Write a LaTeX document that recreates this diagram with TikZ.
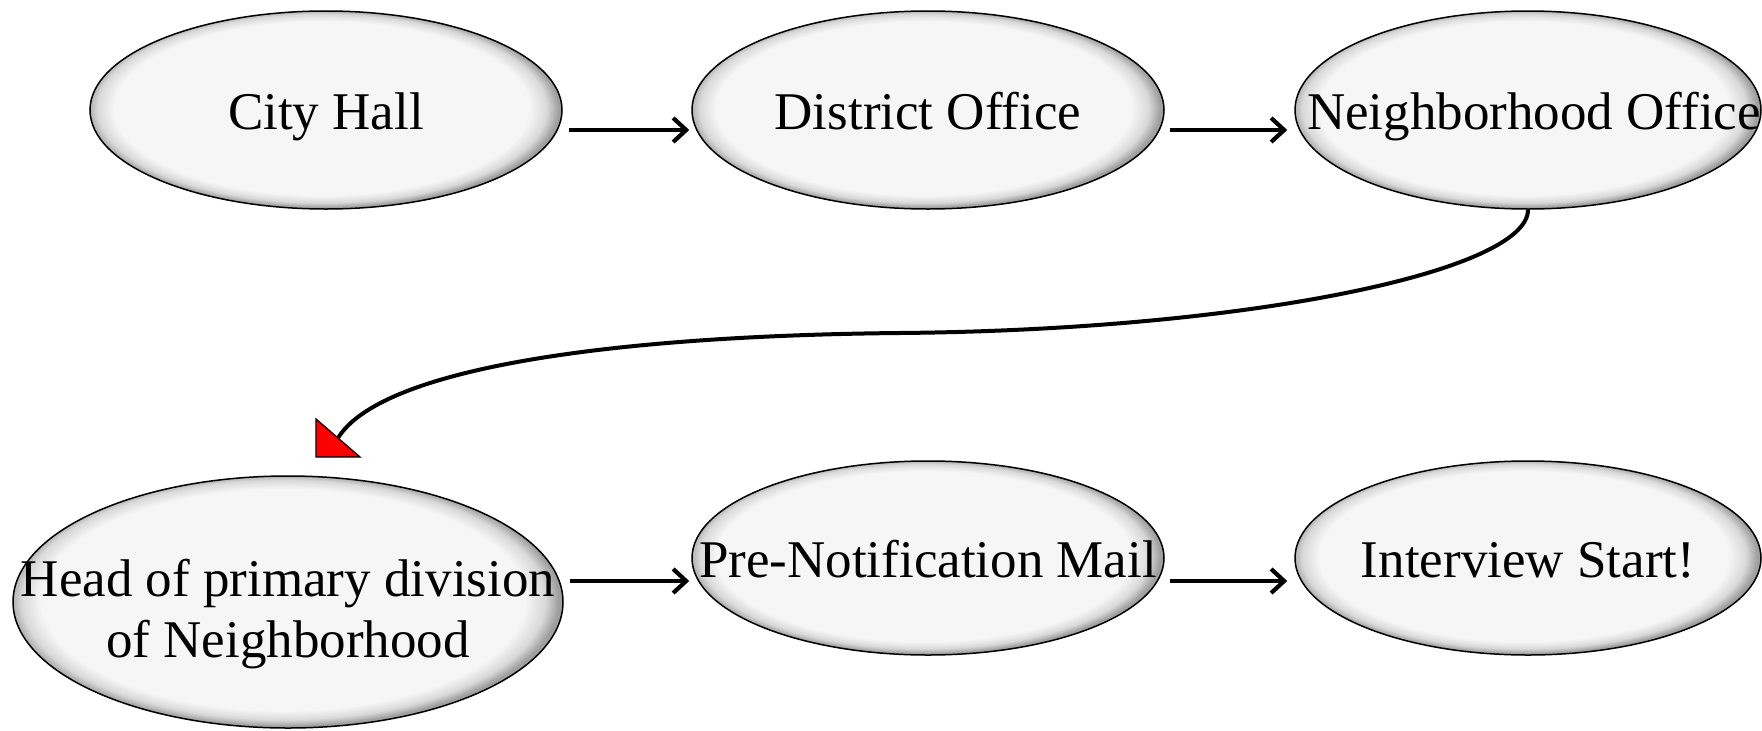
\documentclass[tikz,border=0pt]{standalone}
\usepackage{fontspec}
\setmainfont{Liberation Serif}
\usetikzlibrary{shapes.geometric,arrows.meta}

% soft bevelled fill for the oval boxes: flat light centre, darker rim
\definecolor{ovalfill}{HTML}{F6F6F6}
\pgfdeclareradialshading{ovalbevel}{\pgfpoint{-0.8bp}{0.8bp}}{%
  color(0bp)=(ovalfill); color(22bp)=(ovalfill); color(23.8bp)=(gray!30);
  color(25bp)=(gray!75); color(50bp)=(gray!75)}

\tikzset{
  oval/.style={ellipse, draw=black, line width=1.5pt, shading=ovalbevel,
    inner sep=0pt, minimum width=472pt, minimum height=198pt},
  ovalfont/.style={font=\fontsize{53}{62}\selectfont, inner sep=0pt},
  ovaltext/.style={ovalfont, text height=39pt, text depth=0pt},
  flow/.style={line width=4.2pt, -{Straight Barb[length=13pt,width=24pt]}},
  link/.style={line width=4pt},
  marker/.style={fill=red, draw=black, line width=1.3pt, line join=miter}
}

\begin{document}
\begin{tikzpicture}[x=1pt,y=-1pt]
  \useasboundingbox (0,0) rectangle (1762,731);

  % upper row
  \node[oval, label={[ovaltext]center:City Hall}] (city) at (326,110) {};
  \node[oval, label={[ovaltext]center:District Office}] (dist) at (928,110) {};
  \node[oval, minimum width=466pt,
        label={[ovaltext, xshift=6pt]center:Neighborhood Office}] (nbhd) at (1528,110) {};

  % lower row
  \node[oval, minimum width=550pt, minimum height=252pt] (head) at (288,602) {};
  \node[ovalfont, align=center, yshift=-12pt] (headtext) at (head.center)
        {Head of primary division\\[-1pt] of Neighborhood};
  \node[oval, minimum height=194pt,
        label={[ovaltext]center:Pre-Notification Mail}] (mail) at (928,558) {};
  \node[oval, minimum width=466pt, minimum height=194pt,
        label={[ovaltext]center:Interview Start!}] (start) at (1528,558) {};

  % straight connectors
  \draw[flow] ([shift={(6,20)}]city.east)  -- ([shift={(-2,20)}]dist.west);
  \draw[flow] ([shift={(5,20)}]dist.east)  -- ([shift={(-7,20)}]nbhd.west);
  \draw[flow] ([shift={(6,-21)}]head.east) -- ([shift={(-2,23)}]mail.west);
  \draw[flow] ([shift={(5,23)}]mail.east)  -- ([shift={(-7,23)}]start.west);

  % long S-shaped connector down to the second row
  \coordinate (bend) at (899,333);
  \coordinate (headtip) at (338,438);
  \draw[link] (nbhd.south) .. controls +(0,61) and (1250,330) .. (bend)
              .. controls (600,336) and (380,370) .. (headtip);
  \filldraw[marker] (headtip) ++(-22,-19) -- ++(0,38) -- ++(44,0) -- cycle;
\end{tikzpicture}
\end{document}
